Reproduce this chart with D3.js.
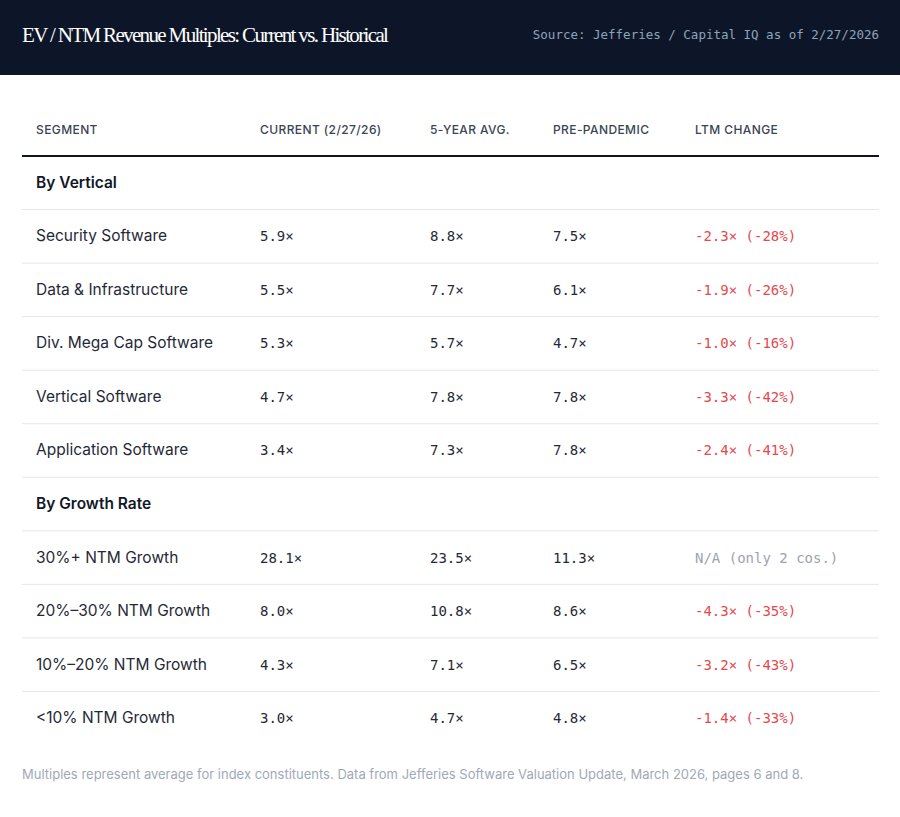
<!DOCTYPE html>
<html><head><meta charset="utf-8">
<script src="https://cdn.jsdelivr.net/npm/d3@7"></script>
<style>body{margin:0;background:#fff}</style>
</head><body><svg></svg>
<script>
var width = 900, height = 817;
var columns = ["SEGMENT", "CURRENT (2/27/26)", "5-YEAR AVG.", "PRE-PANDEMIC", "LTM CHANGE"];
var groups = ["By Vertical", "By Growth Rate"];
var segments = [
  ["Security Software", "Data & Infrastructure", "Div. Mega Cap Software", "Vertical Software", "Application Software"],
  ["30%+ NTM Growth", "20%\u201330% NTM Growth", "10%\u201320% NTM Growth", "<10% NTM Growth"]
];
var current = [[5.9, 5.5, 5.3, 4.7, 3.4], [28.1, 8.0, 4.3, 3.0]];
var fiveYear = [[8.8, 7.7, 5.7, 7.8, 7.3], [23.5, 10.8, 7.1, 4.7]];
var prePandemic = [[7.5, 6.1, 4.7, 7.8, 7.8], [11.3, 8.6, 6.5, 4.8]];
var ltmChange = [["-2.3\u00d7 (-28%)", "-1.9\u00d7 (-26%)", "-1.0\u00d7 (-16%)", "-3.3\u00d7 (-42%)", "-2.4\u00d7 (-41%)"],
                 ["N/A (only 2 cos.)", "-4.3\u00d7 (-35%)", "-3.2\u00d7 (-43%)", "-1.4\u00d7 (-33%)"]];

var svg = d3.select("svg").attr("width", width).attr("height", height);
var sans = "Inter, 'Noto Sans', sans-serif", mono = "'DejaVu Sans Mono', monospace";

svg.append("rect").attr("width", width).attr("height", 75).attr("fill", "#0d1628");
svg.append("text").attr("x", 22).attr("y", 42).text("EV / NTM Revenue Multiples: Current vs. Historical")
  .attr("fill", "#fff").attr("font-family", "'Liberation Serif', serif").attr("font-size", 21)
  .attr("letter-spacing", -0.9).attr("textLength", 366);
svg.append("text").attr("x", 879).attr("y", 39).attr("text-anchor", "end")
  .text("Source: Jefferies / Capital IQ as of 2/27/2026")
  .attr("fill", "#8ea4ba").attr("font-family", mono).attr("font-size", 12.5);

var colX = d3.scaleOrdinal().domain(columns).range([36, 260, 430, 553, 695]);
svg.selectAll(".hdr").data(columns).join("text").attr("x", d => colX(d)).attr("y", 134).text(d => d)
  .attr("fill", "#3a4454").attr("font-family", sans).attr("font-size", 12).attr("font-weight", 500).attr("letter-spacing", 0.4);
svg.append("line").attr("x1", 22).attr("x2", 879).attr("y1", 156).attr("y2", 156).attr("stroke", "#0d1628").attr("stroke-width", 2);

// flatten rows
var rows = [];
groups.forEach(function(g, gi) {
  rows.push({group: g});
  segments[gi].forEach(function(s, i) {
    rows.push({seg: s, cur: current[gi][i], fy: fiveYear[gi][i], pp: prePandemic[gi][i], ltm: ltmChange[gi][i]});
  });
});
var y = d3.scaleBand().domain(d3.range(rows.length)).range([156, 745]);
var fmt = d => d.toFixed(1).replace(/0/g, "0") + "\u00d7";

var row = svg.selectAll(".row").data(rows).join("g").attr("transform", (d, i) => `translate(0,${y(i)})`);
row.filter((d, i) => i > 0).append("line").attr("x1", 22).attr("x2", 879).attr("stroke", "#e3e6eb");
var mid = y.bandwidth() / 2 + 5;
row.filter(d => d.group).append("text").attr("x", 36).attr("y", mid).text(d => d.group)
  .attr("font-family", sans).attr("font-size", 15.5).attr("font-weight", 600).attr("fill", "#111827");
var data = row.filter(d => !d.group);
data.append("text").attr("x", 36).attr("y", mid).text(d => d.seg)
  .attr("font-family", sans).attr("font-size", 15.5).attr("fill", "#1f2937");
[["cur", 1], ["fy", 2], ["pp", 3]].forEach(function(c) {
  data.append("text").attr("x", colX(columns[c[1]])).attr("y", mid).text(d => fmt(d[c[0]]))
    .attr("font-family", mono).attr("font-size", 14).attr("fill", "#1f2937");
});
data.append("text").attr("x", colX(columns[4])).attr("y", mid).text(d => d.ltm)
  .attr("font-family", mono).attr("font-size", 14)
  .attr("fill", d => d.ltm.startsWith("N/A") ? "#9ba3b0" : "#e5484d");

svg.append("text").attr("x", 22).attr("y", 779)
  .text("Multiples represent average for index constituents. Data from Jefferies Software Valuation Update, March 2026, pages 6 and 8.")
  .attr("font-family", sans).attr("font-size", 13).attr("fill", "#a0a9b8");
</script></body></html>
